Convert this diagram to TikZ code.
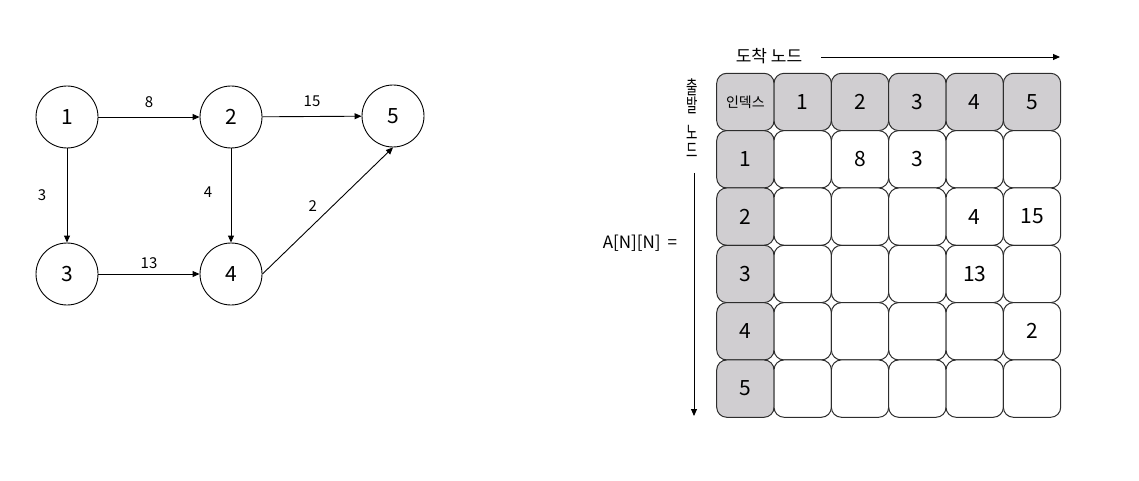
\documentclass[tikz,border=0pt]{standalone}
\usepackage{fontspec}
\setmainfont{Noto Sans CJK KR}
\usetikzlibrary{arrows.meta}
\definecolor{cellgray}{RGB}{208,206,209}
\definecolor{celldraw}{RGB}{45,45,45}
\tikzset{
  vertex/.style={circle, draw=black, line width=0.9pt, minimum size=62pt, inner sep=0pt, font=\fontsize{21}{21}\selectfont},
  edge/.style={line width=0.9pt, -{Triangle[length=7pt,width=6pt]}},
  lbl/.style={font=\fontsize{15}{15}\selectfont, inner sep=0pt},
  cell/.style={draw=celldraw, line width=1pt, rounded corners=10pt, minimum width=57.33pt, minimum height=57.33pt, inner sep=0pt, font=\fontsize{21}{21}\selectfont, fill=white},
  hcell/.style={cell, fill=cellgray},
  axis/.style={line width=0.9pt, -{Triangle[length=7pt,width=6pt]}},
  axislbl/.style={font=\fontsize{17}{17}\selectfont, inner sep=0pt}
}
\begin{document}
\begin{tikzpicture}[x=1pt,y=-1pt]
\useasboundingbox (0,0) rectangle (1139,481);
% graph
\node[vertex] (n1) at (67,117) {1};
\node[vertex] (n2) at (231,117) {2};
\node[vertex] (n5) at (393,116) {5};
\node[vertex] (n3) at (67,274) {3};
\node[vertex] (n4) at (231,274) {4};
\draw[edge] (n1) -- node[lbl, yshift=15pt] {8} (n2);
\draw[edge] (n2) -- node[lbl, yshift=15pt] {15} (n5);
\draw[edge] (n1) -- node[lbl, xshift=-25pt] {3} (n3);
\draw[edge] (n2) -- node[lbl, xshift=-23pt, yshift=3pt] {4} (n4);
\draw[edge] (n3) -- node[lbl, yshift=11pt] {13} (n4);
\draw[edge] (n4.east) -- node[lbl, xshift=-15pt, yshift=5pt] {2} (n5.south);
% matrix
\def\cx{716.7}\def\cy{73.3}\def\cw{57.33}
\foreach \r/\vals in {0/{,1,2,3,4,5},1/{1,,8,3,,},2/{2,,,,4,15},3/{3,,,,13,},4/{4,,,,,2},5/{5,,,,,}}{
  \foreach \v [count=\c from 0] in \vals {
    \ifnum\r=0 \def\st{hcell}\else\ifnum\c=0 \def\st{hcell}\else\def\st{cell}\fi\fi
    \node[\st] (m\r\c) at ({\cx+\cw*(\c+0.5)},{\cy+\cw*(\r+0.5)}) {};
    \node[inner sep=0pt, font=\fontsize{21}{21}\selectfont] (t\r\c) at (m\r\c) {\v};
  }
}
\node[font=\fontsize{14}{14}\selectfont, inner sep=0pt] (idx) at (m00) {인덱스};
% axes
\node[axislbl] (dest) at (769,56) {도착 노드};
\coordinate (hs) at (821,57);
\coordinate (he) at (1060,57);
\draw[axis] (hs) -- (he);
\node[inner sep=0pt, align=center, xscale=0.65, font=\fontsize{19}{18}\selectfont] (src) at (692,118) {출\\발\\[9pt]노\\드};
\coordinate (vs) at (694,173);
\coordinate (ve) at (694,416);
\draw[axis] (vs) -- (ve);
\node[axislbl] (anm) at (640,243) {A[N][N]\hspace{7pt}=};
\end{tikzpicture}
\end{document}
